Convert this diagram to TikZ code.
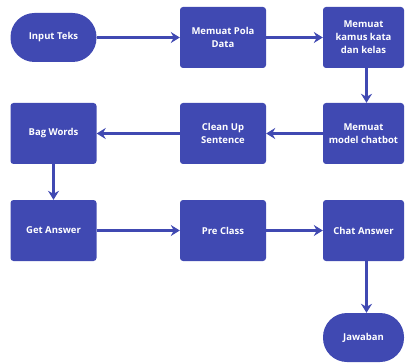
\documentclass[tikz,border=0pt]{standalone}
\usepackage{fontspec}
\setmainfont{Open Sans}
\usetikzlibrary{arrows.meta}
\definecolor{fc}{RGB}{64,73,178}
\tikzset{
  box/.style={draw=none, fill=fc, rounded corners=3pt, minimum width=86pt, minimum height=61pt,
    text=white, font=\fontsize{9.5}{13}\selectfont\bfseries, align=center, inner sep=1pt},
  term/.style={box, minimum height=49pt, rounded corners=24pt},
  conn/.style={draw=fc, line width=2.6pt, -{Stealth[length=9pt,width=11pt,inset=3pt]}}
}
\begin{document}
\begin{tikzpicture}[x=1pt,y=-1pt]
\useasboundingbox (0,0) rectangle (406,363);
\node[term] (in) at (53.5,37.5) {Input Teks};
\node[box] (pola) at (223,37.5) {Memuat Pola\\Data};
\node[box, minimum width=81pt] (kamus) at (363.5,37.5) {Memuat\\kamus kata\\dan kelas};
\node[box, minimum width=81pt] (model) at (363.5,133.5) {Memuat\\model chatbot};
\node[box] (clean) at (223,133.5) {Clean Up\\Sentence};
\node[box] (bag) at (53.5,133.5) {Bag Words};
\node[box] (get) at (53.5,230.5) {Get Answer};
\node[box] (pre) at (223,230.5) {Pre Class};
\node[box, minimum width=81pt] (chat) at (363.5,230.5) {Chat Answer};
\node[term, minimum width=81pt] (jaw) at (363.5,337.5) {Jawaban};
\draw[conn] (in) -- (pola);
\draw[conn] (pola) -- (kamus);
\draw[conn] ([xshift=3pt]kamus.south) -- ([xshift=3pt]model.north);
\draw[conn] (model) -- (clean);
\draw[conn] (clean) -- (bag);
\draw[conn] (bag) -- (get);
\draw[conn] (get) -- (pre);
\draw[conn] (pre) -- (chat);
\draw[conn] ([xshift=3pt]chat.south) -- ([xshift=3pt]jaw.north);
\end{tikzpicture}
\end{document}
